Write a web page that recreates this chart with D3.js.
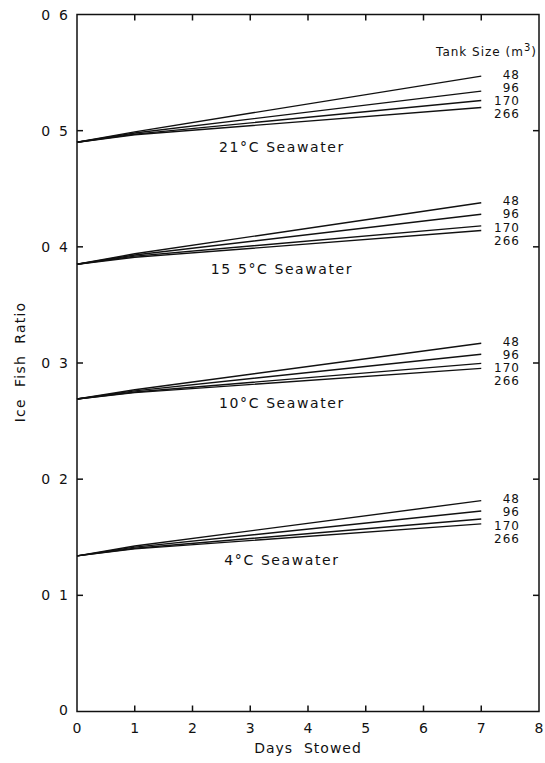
<!DOCTYPE html>
<html lang="en">
<head>
<meta charset="utf-8">
<script src="https://d3js.org/d3.v7.min.js"></script>
<style>
  body { margin: 0; background: #fff; }
  text { font-family: "DejaVu Sans", sans-serif; fill: #111; }
  .frame { fill: none; stroke: #111; stroke-width: 1.5px; }
  .curve { fill: none; stroke: #111; stroke-width: 1.4px; }
</style>
</head>
<body>
<svg width="545" height="763"></svg>
<script>
// days at which values were read
var days = [0, 1, 7];
var tankSizes = ["48", "96", "170", "266"];

// one array per seawater temperature, one row per tank size
var sea21 = [
  [0.490, 0.499, 0.547],
  [0.490, 0.498, 0.534],
  [0.490, 0.497, 0.526],
  [0.490, 0.4965, 0.520]
];
var sea155 = [
  [0.385, 0.394, 0.438],
  [0.385, 0.393, 0.428],
  [0.385, 0.392, 0.418],
  [0.385, 0.391, 0.414]
];
var sea10 = [
  [0.269, 0.277, 0.317],
  [0.269, 0.276, 0.3075],
  [0.269, 0.275, 0.2997],
  [0.269, 0.2745, 0.2954]
];
var sea4 = [
  [0.134, 0.1425, 0.1815],
  [0.134, 0.1415, 0.1726],
  [0.134, 0.1405, 0.1657],
  [0.134, 0.140, 0.1615]
];
var groups = [sea21, sea155, sea10, sea4];
var groupLabels = ["21°C Seawater", "15 5°C Seawater", "10°C Seawater", "4°C Seawater"];
var groupLabelPos = [[3.55, 0.482], [3.55, 0.377], [3.55, 0.261], [3.55, 0.126]];

var xTicks = [0, 1, 2, 3, 4, 5, 6, 7, 8];
var yTicks = [0.1, 0.2, 0.3, 0.4, 0.5, 0.6];
var yTickLabels = ["0 1", "0 2", "0 3", "0 4", "0 5", "0 6"];

var plotLeft = 77, plotRight = 539, plotTop = 14.5, plotBottom = 711.5;

var svg = d3.select("svg");
var x = d3.scaleLinear().domain([0, 8]).range([plotLeft, plotRight]);
var y = d3.scaleLinear().domain([0, 0.6]).range([plotBottom, plotTop]);

// frame
svg.append("rect").attr("class", "frame")
  .attr("x", plotLeft).attr("y", plotTop)
  .attr("width", plotRight - plotLeft).attr("height", plotBottom - plotTop);

// inward ticks on all four sides
var tickLen = 6;
xTicks.slice(1, -1).forEach(function (d) {
  svg.append("line").attr("class", "frame")
    .attr("x1", x(d)).attr("x2", x(d)).attr("y1", plotBottom).attr("y2", plotBottom - tickLen);
  svg.append("line").attr("class", "frame")
    .attr("x1", x(d)).attr("x2", x(d)).attr("y1", plotTop).attr("y2", plotTop + tickLen);
});
yTicks.slice(0, -1).forEach(function (d) {
  svg.append("line").attr("class", "frame")
    .attr("x1", plotLeft).attr("x2", plotLeft + tickLen).attr("y1", y(d)).attr("y2", y(d));
  svg.append("line").attr("class", "frame")
    .attr("x1", plotRight).attr("x2", plotRight - tickLen).attr("y1", y(d)).attr("y2", y(d));
});

// tick labels
svg.selectAll(".xlab").data(xTicks).enter().append("text")
  .attr("x", function (d) { return x(d); }).attr("y", 733)
  .attr("text-anchor", "middle").style("font-size", "14px")
  .text(function (d) { return d; });

svg.selectAll(".ylab").data(yTicks).enter().append("text")
  .attr("x", plotLeft - 9).attr("y", function (d) { return y(d) + 5; })
  .attr("text-anchor", "end").style("font-size", "14px")
  .attr("xml:space", "preserve")
  .text(function (d, i) { return yTickLabels[i].replace(" ", "  "); });

svg.append("text").attr("x", plotLeft - 9).attr("y", y(0) + 3)
  .attr("text-anchor", "end").style("font-size", "14px").text("0");

// axis titles
svg.append("text").attr("x", (plotLeft + plotRight) / 2).attr("y", 753)
  .attr("text-anchor", "middle").style("font-size", "14px")
  .style("letter-spacing", "1px").attr("xml:space", "preserve")
  .text("Days  Stowed");

svg.append("text")
  .attr("transform", "translate(25," + 362 + ") rotate(-90)")
  .attr("text-anchor", "middle").style("font-size", "14px")
  .style("letter-spacing", "1.2px").attr("xml:space", "preserve")
  .text("Ice  Fish  Ratio");

// curves
var line = d3.line()
  .x(function (d, i) { return x(days[i]); })
  .y(function (d) { return y(d); });

groups.forEach(function (g, gi) {
  svg.selectAll(null).data(g).enter().append("path")
    .attr("class", "curve").attr("d", line);

  // tank size labels stacked below the end of the top curve
  var y0 = y(g[0][g[0].length - 1]);
  svg.selectAll(null).data(tankSizes).enter().append("text")
    .attr("x", 520).attr("y", function (d, i) { return y0 + 2.5 + i * 13.2; })
    .attr("text-anchor", "end").style("font-size", "12px")
    .style("letter-spacing", "1px")
    .text(function (d) { return d; });

  svg.append("text")
    .attr("x", x(groupLabelPos[gi][0]))
    .attr("y", y(groupLabelPos[gi][1]))
    .attr("text-anchor", "middle")
    .style("font-size", "14px").style("letter-spacing", "1.6px")
    .text(groupLabels[gi]);
});

svg.append("text").attr("x", 537).attr("y", 56)
  .attr("text-anchor", "end").style("font-size", "12px")
  .style("letter-spacing", "1px")
  .html('Tank Size (m<tspan dy="-5" font-size="10px">3</tspan><tspan dy="5">)</tspan>');
</script>
</body>
</html>
